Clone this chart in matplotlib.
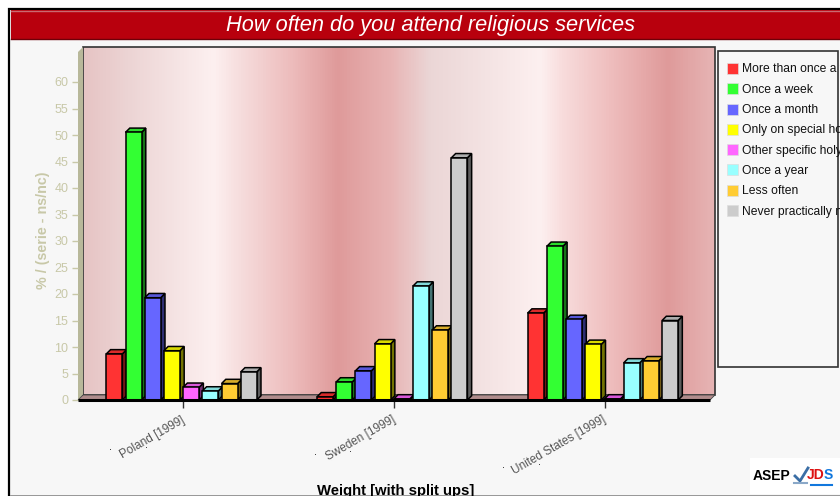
import matplotlib
matplotlib.use('Agg')
import matplotlib.pyplot as plt
import numpy as np
from matplotlib.colors import LinearSegmentedColormap, to_rgb
from matplotlib.patches import Polygon, Rectangle
from matplotlib.transforms import ScaledTranslation

plt.rcParams['font.family'] = ['Liberation Sans', 'DejaVu Sans']

W, H = 840, 496

categories = ['Poland [1999]', 'Sweden [1999]', 'United States [1999]']
answers = ['More than once a week', 'Once a week', 'Once a month', 'Only on special holy days',
           'Other specific holy days', 'Once a year', 'Less often', 'Never practically never']
poland = [8.7, 50.5, 19.3, 9.3, 2.4, 1.7, 3.1, 5.3]
sweden = [0.6, 3.4, 5.5, 10.6, 0.2, 21.5, 13.2, 45.7]
usa = [16.4, 29.0, 15.2, 10.5, 0.2, 7.0, 7.4, 15.0]
colors = ['#ff3333', '#33ff33', '#6666ff', '#ffff00', '#ff66ff', '#99ffff', '#ffcc33', '#cccccc']
yticks = list(range(0, 65, 5))

title_red = '#b8000d'
axis_col = '#c8c8a8'
page_col = '#f7f7f7'


def shade(c, f):
    return tuple(v * f for v in to_rgb(c))


fig = plt.figure(figsize=(W / 100, H / 100), dpi=100, facecolor='white')

# overlay in pixel coordinates for the page, the title band and the legend
bg = fig.add_axes([0, 0, 1, 1], zorder=0)
bg.set_xlim(0, W)
bg.set_ylim(H, 0)
bg.axis('off')
bg.add_patch(Rectangle((9, 9), W, H, fc=page_col, ec='black', lw=1.6))
bg.add_patch(Rectangle((10, 495), W, 2, fc='#999999', ec='none'))
bg.add_patch(Rectangle((11, 10), W, 29, fc=title_red, ec='none'))
bg.plot([11, W], [10.5, 10.5], color='#c96a70', lw=1)
bg.plot([11, W], [39, 39], color='#6e0008', lw=1)
bg.text(430, 25, 'How often do you attend religious services', color='white', fontsize=15.7,
        style='italic', ha='center', va='center')

# plot area: front plane of the 3D box
left, right, bottom, top = 78, 710, 400, 52
ax = fig.add_axes([left / W, 1 - bottom / H, (right - left) / W, (bottom - top) / H], zorder=2)
ax.patch.set_alpha(0)
ax.set_xlim(-0.5, 2.5)
ax.set_ylim(0, (bottom - top) / 5.3)
for s in ax.spines.values():
    s.set_visible(False)

px_x = 3 / (right - left)
px_y = 5.3
dx = 5 * px_x
dy = 5 / px_y
ytop = ax.get_ylim()[1]

# back wall with the banded gradient
stops = [(0, '#e6c4c4'), (0.07, '#ecd4d4'), (0.206, '#fdf0f0'), (0.25, '#f6dcdc'), (0.33, '#edbcbc'),
         (0.403, '#df9a9a'), (0.487, '#e8b4b4'), (0.55, '#ebd6d6'), (0.725, '#fdf0f0'), (0.76, '#f8dcdc'),
         (0.84, '#eebcbc'), (0.927, '#df9a9a'), (1, '#e6b4b4')]
cmap = LinearSegmentedColormap.from_list('wall', stops)
ax.imshow(np.linspace(0, 1, 512)[None, :], cmap=cmap, aspect='auto', zorder=0,
          extent=[-0.5 + dx, 2.5 + dx, dy, ytop + dy], clip_on=False)
ax.set_xlim(-0.5, 2.5)
ax.set_ylim(0, ytop)
ax.add_patch(Rectangle((-0.5 + dx, dy), 3, ytop, fc='none', ec='#333333', lw=1.2, zorder=1, clip_on=False))

# side wall and floor
ax.add_patch(Polygon([(-0.5, 0), (-0.5 + dx, dy), (-0.5 + dx, ytop + dy), (-0.5, ytop)],
                     fc='#b8b89a', ec='none', zorder=1, clip_on=False))
ax.add_patch(Polygon([(-0.5, 0), (-0.5 + dx, dy), (2.5 + dx, dy), (2.5, 0)],
                     fc='#b08c8c', ec='#444444', lw=0.6, zorder=1, clip_on=False))
ax.plot([-0.5, 2.5], [0, 0], color='black', lw=2.2, zorder=6, clip_on=False, solid_capstyle='butt')

# bars with drawn top and side faces
step = 19.2 * px_x
bar_w = 16 * px_x
for g, vals in enumerate([poland, sweden, usa]):
    for i, v in enumerate(vals):
        x0 = g - 77 * px_x + i * step
        x1 = x0 + bar_w
        ax.add_patch(Polygon([(x1, 0), (x1 + dx * 0.85, dy * 0.85), (x1 + dx * 0.85, v + dy * 0.85), (x1, v)],
                             fc=shade(colors[i], 0.45), ec='black', lw=1.1, zorder=4, clip_on=False))
        ax.add_patch(Polygon([(x0, v), (x0 + dx * 0.85, v + dy * 0.85), (x1 + dx * 0.85, v + dy * 0.85), (x1, v)],
                             fc=shade(colors[i], 0.85), ec='black', lw=1.1, zorder=4, clip_on=False))
        ax.bar(x0, v, width=bar_w, align='edge', color=colors[i], edgecolor='black', lw=1.1, zorder=5)

ax.set_yticks(yticks)
ax.tick_params(axis='y', direction='out', left=True, color=axis_col, labelcolor=axis_col,
               labelsize=9, length=4, width=1, pad=3)
ax.set_xticks(range(3))
ax.set_xticklabels(categories, rotation=30, ha='right', rotation_mode='anchor', fontsize=8.5, color='#555555')
ax.tick_params(axis='x', direction='out', bottom=True, color='#333333', length=6, width=1, pad=4)
nudge = ScaledTranslation(-2.5 / 100, 0, fig.dpi_scale_trans)
for lab in ax.get_xticklabels():
    lab.set_transform(lab.get_transform() + nudge)

fig.text(43 / W, 1 - 230 / H, '% / (serie - ns/nc)', rotation=90, color=axis_col, fontsize=10.3,
         fontweight='bold', ha='center', va='center')
fig.text(396 / W, 1 - 491 / H, 'Weight [with split ups]', color='black', fontsize=10.7,
         fontweight='bold', ha='center', va='center')

# legend box, its labels run past the box and get cut off
fg = fig.add_axes([0, 0, 1, 1], zorder=3)
fg.set_xlim(0, W)
fg.set_ylim(H, 0)
fg.axis('off')
box = Rectangle((718, 51), 120, 316, fc=page_col, ec='#333333', lw=1.2)
fg.add_patch(box)
leg_y = np.linspace(69, 211, len(answers))
for yy, lab, c in zip(leg_y, answers, colors):
    fg.add_patch(Rectangle((727, yy - 6), 11, 11, fc=c, ec='#dddddd', lw=0.5))
    t = fg.text(742, yy + 0.5, lab, fontsize=8.7, color='#111111', va='center', ha='left')
    t.set_clip_path(box)

# stray dots next to the rotated labels
fg.plot([110, 146, 315, 350, 503, 539], [449, 447, 454, 451, 467, 464], ls='none', marker='s',
        ms=0.6, mew=0, color='#333333')

# logo corner
fg.add_patch(Rectangle((750, 458), 90, 36, fc='white', ec='none'))
fg.text(772, 476, 'ASEP', fontsize=10, fontweight='bold', color='black', ha='center', va='center')
fg.plot([795, 800, 808], [476, 481, 468], color='#3a6ea5', lw=2)
fg.plot([794, 807], [483, 483], color='#8aa8c8', lw=1.5)
fg.text(816, 475, 'JD', fontsize=10, fontweight='bold', color='#dd1111', ha='center', va='center')
fg.text(828, 475, 'S', fontsize=10, fontweight='bold', color='#1177dd', ha='center', va='center')
fg.plot([811, 832], [485, 485], color='#1177dd', lw=1.5)

fig.savefig('out.png', dpi=100, facecolor='white')
